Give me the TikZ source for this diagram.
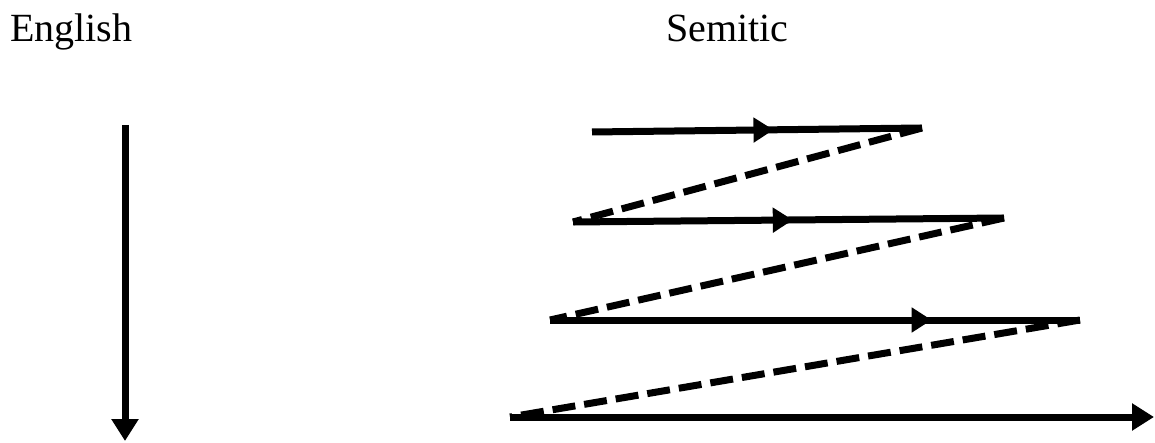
\documentclass[tikz,border=0pt]{standalone}
\usepackage{fontspec}
\setmainfont{Liberation Serif}
\usetikzlibrary{arrows.meta,decorations.markings}
\tikzset{
  label text/.style={anchor=base west, inner sep=0pt, font=\fontsize{40}{48}\selectfont},
  solidline/.style={line width=7pt, black},
  dashline/.style={line width=7pt, black, dash pattern=on 23pt off 9pt},
  midarrow/.style={postaction={decorate}, decoration={markings,
      mark=at position #1 with {\arrow{Triangle[length=20pt,width=24pt]}}}},
  endarrow/.style={-{Triangle[length=22pt,width=26pt]}},
}
\begin{document}
\begin{tikzpicture}[x=1pt,y=-1pt]
\useasboundingbox (0,0) rectangle (1155,443);
\node[label text] (eng) at (10,42) {English};
\node[label text] (sem) at (666,42) {Semitic};
% English arrow
\coordinate (e0) at (125,125);
\coordinate (e1) at (125,441);
\draw[solidline, endarrow] (e0) -- (e1);
% Semitic zigzag
\coordinate (a0) at (592,132);
\coordinate (a1) at (922,128);
\coordinate (b0) at (573,222);
\coordinate (b1) at (1004,218);
\coordinate (c0) at (550,320);
\coordinate (c1) at (1080,320);
\coordinate (d0) at (510,417);
\coordinate (d1) at (1154,417);
\draw[solidline, midarrow=0.55] (a0) -- (a1);
\draw[dashline] (a1) -- (b0);
\draw[solidline, midarrow=0.51] (b0) -- (b1);
\draw[dashline] (b1) -- (c0);
\draw[solidline, midarrow=0.72] (c0) -- (c1);
\draw[dashline] (c1) -- (d0);
\draw[solidline, endarrow] (d0) -- (d1);
\end{tikzpicture}
\end{document}
